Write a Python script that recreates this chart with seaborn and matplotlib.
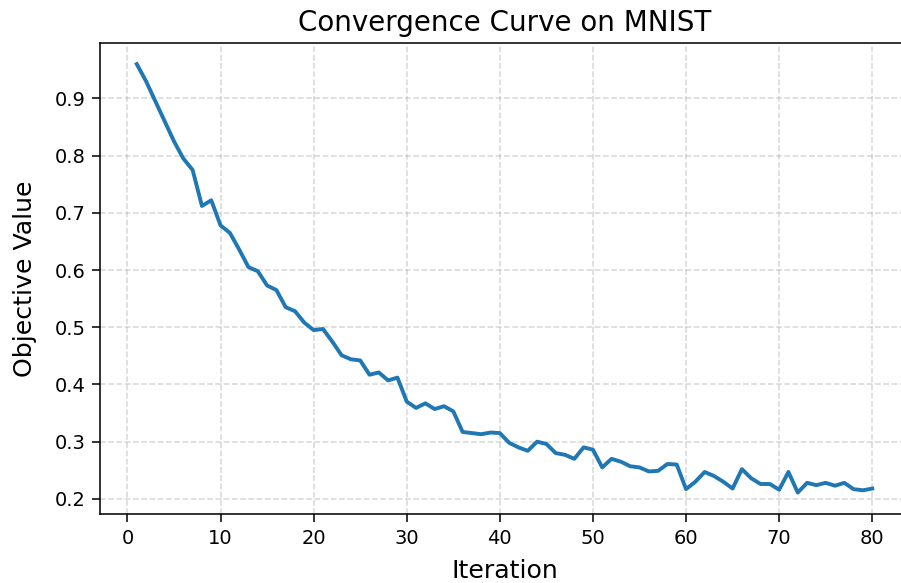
import matplotlib
matplotlib.use("Agg")
import matplotlib.pyplot as plt
import seaborn as sns
import pandas as pd

iterations = list(range(1, 81))
objective = [
    0.960, 0.930, 0.895, 0.860, 0.825, 0.795, 0.775, 0.712, 0.722, 0.678,
    0.665, 0.636, 0.605, 0.598, 0.573, 0.565, 0.535, 0.528, 0.508, 0.495,
    0.497, 0.475, 0.451, 0.444, 0.442, 0.417, 0.421, 0.407, 0.412, 0.370,
    0.359, 0.367, 0.357, 0.362, 0.353, 0.317, 0.315, 0.313, 0.316, 0.315,
    0.298, 0.290, 0.284, 0.300, 0.296, 0.280, 0.277, 0.270, 0.290, 0.286,
    0.255, 0.270, 0.265, 0.257, 0.255, 0.248, 0.249, 0.261, 0.260, 0.217,
    0.230, 0.247, 0.240, 0.230, 0.218, 0.252, 0.236, 0.226, 0.226, 0.216,
    0.247, 0.211, 0.228, 0.224, 0.228, 0.223, 0.228, 0.217, 0.215, 0.218,
]

df = pd.DataFrame({"Iteration": iterations, "Objective Value": objective})

DPI = 140
fig, ax = plt.subplots(figsize=(901 / DPI, 583 / DPI), dpi=DPI)
sns.lineplot(data=df, x="Iteration", y="Objective Value", ax=ax,
             color="#1f77b4", linewidth=2)
ax.grid(True, linestyle="--", alpha=0.5)
ax.set_title("Convergence Curve on MNIST", fontsize=14.3, pad=6)
ax.set_xlabel("Iteration", fontsize=13, labelpad=6)
ax.set_ylabel("Objective Value", fontsize=13, labelpad=9)
ax.tick_params(labelsize=10, length=4)
fig.subplots_adjust(left=100 / 901, right=909 / 901, top=1 - 42.7 / 583,
                    bottom=1 - 514 / 583)
fig.savefig("out.png", dpi=DPI)
